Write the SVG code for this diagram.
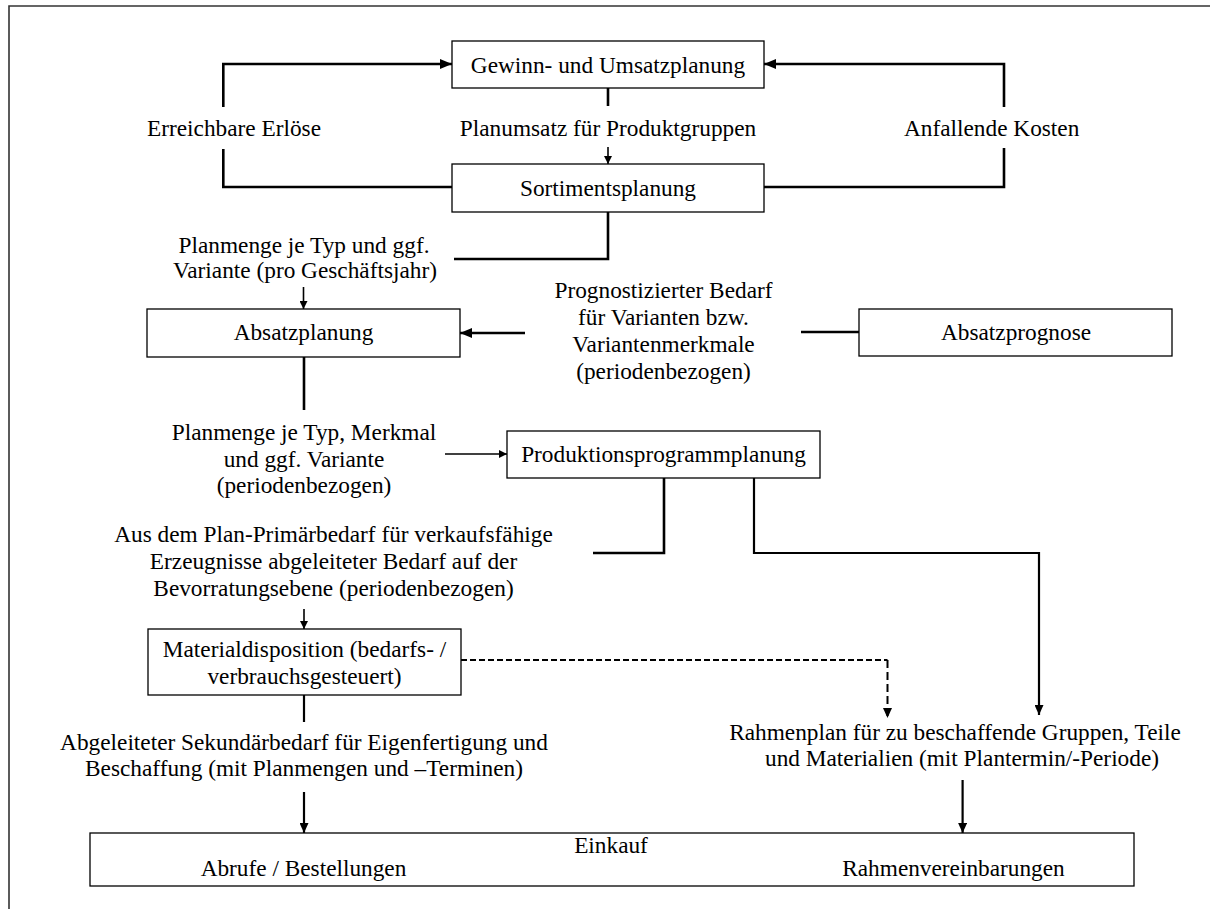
<svg xmlns="http://www.w3.org/2000/svg" width="1210" height="909" viewBox="0 0 1210 909">
  <style>
    text { font-family: "Liberation Serif", "Times New Roman", serif; font-size: 23.3px; fill: #000; text-anchor: middle; }
    .start { text-anchor: start; }
    .box { fill: #fff; stroke: #000; stroke-width: 1.3; }
    .bold { fill: none; stroke: #000; stroke-width: 2.6; }
    .mid { fill: none; stroke: #000; stroke-width: 2.2; }
    .thin { fill: none; stroke: #000; stroke-width: 1.6; }
    .dash { fill: none; stroke: #000; stroke-width: 2; stroke-dasharray: 6 3; }
    .dashv { fill: none; stroke: #000; stroke-width: 2; stroke-dasharray: 8 4; }
  </style>
  <defs>
    <marker id="headL" markerUnits="userSpaceOnUse" markerWidth="12" markerHeight="10" refX="12" refY="5" orient="auto">
      <path d="M0,0 L12,5 L0,10 z" fill="#000"/>
    </marker>
    <marker id="headM" markerUnits="userSpaceOnUse" markerWidth="10" markerHeight="9" refX="10" refY="4.5" orient="auto">
      <path d="M0,0 L10,4.5 L0,9 z" fill="#000"/>
    </marker>
    <marker id="headS" markerUnits="userSpaceOnUse" markerWidth="8" markerHeight="8" refX="8" refY="4" orient="auto">
      <path d="M0,0 L8,4 L0,8 z" fill="#000"/>
    </marker>
  </defs>

  <rect width="1210" height="909" fill="#fff"/>
  <!-- page frame, open to the right and bottom -->
  <path d="M9,909 V6 H1210" fill="none" stroke="#333" stroke-width="1.6"/>

  <g id="connectors">
    <!-- revenue loop (left) -->
    <path class="bold" d="M452,187 H223.3 V149"/>
    <path class="bold" d="M223.3,107 V64 H452" marker-end="url(#headL)"/>
    <!-- cost loop (right) -->
    <path class="bold" d="M764,187 H1004 V148"/>
    <path class="bold" d="M1004,107 V64 H764" marker-end="url(#headL)"/>
    <!-- planned turnover -->
    <path class="bold" d="M608,88 V106"/>
    <path class="thin" d="M608,147 V164" marker-end="url(#headS)"/>
    <!-- quantities per type -->
    <path class="bold" d="M608,212 V259 H454"/>
    <path class="thin" d="M303.5,287 V309" marker-end="url(#headS)"/>
    <!-- forecast demand -->
    <path class="bold" d="M525,333 H460" marker-end="url(#headL)"/>
    <path class="bold" d="M801,332 H859"/>
    <!-- sales plan to production programme -->
    <path class="bold" d="M304,357 V410"/>
    <path class="thin" d="M445,454 H507" marker-end="url(#headS)"/>
    <!-- production programme branches -->
    <path class="bold" d="M664,478 V553 H593"/>
    <path class="mid" d="M754,478 V553 H1039 V715" marker-end="url(#headM)"/>
    <path class="thin" d="M304,609 V629" marker-end="url(#headS)"/>
    <!-- material requirements (consumption-driven, dashed) -->
    <path class="dash" d="M461,660 H887.5"/>
    <path class="dashv" d="M887.5,660 V718" marker-end="url(#headM)"/>
    <path class="mid" d="M304,695 V722"/>
    <path class="mid" d="M304,792 V833" marker-end="url(#headM)"/>
    <path class="mid" d="M962.6,780 V833" marker-end="url(#headM)"/>
  </g>

  <g id="labels">
    <text class="start" x="147" y="136">Erreichbare Erlöse</text>
    <text class="start" x="904" y="136">Anfallende Kosten</text>
    <text x="608" y="136">Planumsatz für Produktgruppen</text>
    <text x="304" y="252.5">Planmenge je Typ und ggf.</text>
    <text x="305" y="278">Variante (pro Geschäftsjahr)</text>
    <text x="663.5" y="298">Prognostizierter Bedarf</text>
    <text x="663.5" y="325">für Varianten bzw.</text>
    <text x="663.5" y="352">Variantenmerkmale</text>
    <text x="663.5" y="379">(periodenbezogen)</text>
    <text x="304" y="440">Planmenge je Typ, Merkmal</text>
    <text x="304" y="467">und ggf. Variante</text>
    <text x="304" y="493">(periodenbezogen)</text>
    <text x="333.5" y="542">Aus dem Plan-Primärbedarf für verkaufsfähige</text>
    <text x="333.5" y="569">Erzeugnisse abgeleiteter Bedarf auf der</text>
    <text x="333.5" y="596">Bevorratungsebene (periodenbezogen)</text>
    <text x="304" y="750">Abgeleiteter Sekundärbedarf für Eigenfertigung und</text>
    <text x="304" y="776">Beschaffung (mit Planmengen und –Terminen)</text>
    <text x="955" y="740">Rahmenplan für zu beschaffende Gruppen, Teile</text>
    <text x="962" y="766">und Materialien (mit Plantermin/-Periode)</text>
  </g>

  <g id="gewinn">
    <rect class="box" x="452" y="41" width="312" height="47"/>
    <text x="608" y="73">Gewinn- und Umsatzplanung</text>
  </g>
  <g id="sortiment">
    <rect class="box" x="452" y="164" width="312" height="48"/>
    <text x="608" y="196">Sortimentsplanung</text>
  </g>
  <g id="absatzplanung">
    <rect class="box" x="147" y="309" width="313" height="48"/>
    <text x="303.5" y="340">Absatzplanung</text>
  </g>
  <g id="absatzprognose">
    <rect class="box" x="859" y="309" width="313" height="47"/>
    <text x="1016" y="340">Absatzprognose</text>
  </g>
  <g id="produktion">
    <rect class="box" x="507" y="431" width="313" height="47"/>
    <text x="663.5" y="462">Produktionsprogrammplanung</text>
  </g>
  <g id="materialdisposition">
    <rect class="box" x="148" y="629" width="313" height="66"/>
    <text x="304.5" y="657">Materialdisposition (bedarfs- /</text>
    <text x="304.5" y="684">verbrauchsgesteuert)</text>
  </g>
  <g id="einkauf">
    <rect class="box" x="90" y="833" width="1044" height="53"/>
    <text x="611" y="853">Einkauf</text>
    <text x="303.5" y="876">Abrufe / Bestellungen</text>
    <text x="953.5" y="876">Rahmenvereinbarungen</text>
  </g>
</svg>
